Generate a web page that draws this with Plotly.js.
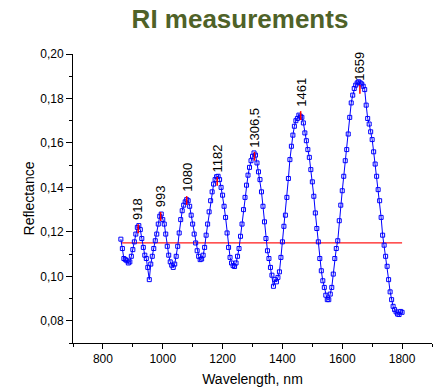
<!DOCTYPE html>
<html>
<head>
<meta charset="utf-8">
<script src="https://cdn.plot.ly/plotly-3.0.1.min.js"></script>
<style>
  html, body { margin: 0; padding: 0; background: #ffffff; }
  #chart { width: 435px; height: 389px; }
</style>
</head>
<body>
<div id="chart"></div>
<script>
// Wavelength (nm) of the measured points
var wavelength = [
  860, 865, 870, 875, 880, 885, 890, 895, 900, 905, 910, 915, 920, 925, 930, 935, 940, 945, 950, 955,
  960, 965, 970, 975, 980, 985, 990, 995, 1000, 1005, 1010, 1015, 1020, 1025, 1030, 1035, 1040, 1045, 1050, 1055,
  1060, 1065, 1070, 1075, 1080, 1085, 1090, 1095, 1100, 1105, 1110, 1115, 1120, 1125, 1130, 1135, 1140, 1145, 1150, 1155,
  1160, 1165, 1170, 1175, 1180, 1185, 1190, 1195, 1200, 1205, 1210, 1215, 1220, 1225, 1230, 1235, 1240, 1245, 1250, 1255,
  1260, 1265, 1270, 1275, 1280, 1285, 1290, 1295, 1300, 1305, 1310, 1315, 1320, 1325, 1330, 1335, 1340, 1345, 1350, 1355,
  1360, 1365, 1370, 1375, 1380, 1385, 1390, 1395, 1400, 1405, 1410, 1415, 1420, 1425, 1430, 1435, 1440, 1445, 1450, 1455,
  1460, 1465, 1470, 1475, 1480, 1485, 1490, 1495, 1500, 1505, 1510, 1515, 1520, 1525, 1530, 1535, 1540, 1545, 1550, 1555,
  1560, 1565, 1570, 1575, 1580, 1585, 1590, 1595, 1600, 1605, 1610, 1615, 1620, 1625, 1630, 1635, 1640, 1645, 1650, 1655,
  1660, 1665, 1670, 1675, 1680, 1685, 1690, 1695, 1700, 1705, 1710, 1715, 1720, 1725, 1730, 1735, 1740, 1745, 1750, 1755,
  1760, 1765, 1770, 1775, 1780, 1785, 1790, 1795, 1800
];

// Measured reflectance
var reflectance = [
  0.1167, 0.1125, 0.1080, 0.1075, 0.1070, 0.1060, 0.1065, 0.1090, 0.1120, 0.1155, 0.1190, 0.1220, 0.1228, 0.1210, 0.1170, 0.1130, 0.1095, 0.1080, 0.1040, 0.0985,
  0.1055, 0.1090, 0.1125, 0.1160, 0.1190, 0.1235, 0.1270, 0.1280, 0.1255, 0.1235, 0.1190, 0.1135, 0.1095, 0.1065, 0.1050, 0.1040, 0.1055, 0.1090, 0.1135, 0.1195,
  0.1255, 0.1295, 0.1320, 0.1335, 0.1345, 0.1340, 0.1315, 0.1275, 0.1235, 0.1190, 0.1150, 0.1115, 0.1090, 0.1075, 0.1078, 0.1095, 0.1130, 0.1185, 0.1235, 0.1290,
  0.1340, 0.1380, 0.1415, 0.1435, 0.1448, 0.1450, 0.1435, 0.1400, 0.1365, 0.1315, 0.1265, 0.1195, 0.1130, 0.1085, 0.1060, 0.1048, 0.1044, 0.1060, 0.1090, 0.1125,
  0.1180, 0.1235, 0.1300, 0.1355, 0.1410, 0.1455, 0.1490, 0.1520, 0.1540, 0.1555, 0.1545, 0.1510, 0.1470, 0.1435, 0.1380, 0.1315, 0.1245, 0.1170, 0.1115, 0.1080,
  0.1040, 0.1005, 0.0955, 0.0985, 0.0975, 0.0995, 0.1020, 0.1085, 0.1155, 0.1225, 0.1275, 0.1355, 0.1440, 0.1525, 0.1585, 0.1635, 0.1675, 0.1700, 0.1710, 0.1725,
  0.1720, 0.1715, 0.1690, 0.1645, 0.1610, 0.1570, 0.1535, 0.1480, 0.1425, 0.1360, 0.1285, 0.1215, 0.1155, 0.1080, 0.1025, 0.0980, 0.0950, 0.0915, 0.0895, 0.0895,
  0.0920, 0.0950, 0.1010, 0.1080, 0.1125, 0.1160, 0.1250, 0.1320, 0.1385, 0.1450, 0.1520, 0.1570, 0.1640, 0.1715, 0.1780, 0.1815, 0.1845, 0.1860, 0.1870, 0.1875,
  0.1870, 0.1865, 0.1855, 0.1840, 0.1770, 0.1710, 0.1685, 0.1650, 0.1615, 0.1560, 0.1505, 0.1450, 0.1390, 0.1340, 0.1265, 0.1185, 0.1140, 0.1090, 0.1045, 0.0985,
  0.0930, 0.0895, 0.0865, 0.0850, 0.0840, 0.0830, 0.0828, 0.0842, 0.0838
];

// Reference (threshold) level
var levelX = [860, 1800];
var levelY = [0.115, 0.115];

// Detected peaks
var peakNm     = [918, 993, 1080, 1182, 1306.5, 1461, 1659];
var peakValue  = [0.1214, 0.1269, 0.1341, 0.1427, 0.1540, 0.1723, 0.1841];
var peakLabels = ["918", "993", "1080", "1182", "1306,5", "1461", "1659"];

// Axis ticks
var xTicks = [800, 1000, 1200, 1400, 1600, 1800];
var yTicks = [0.08, 0.10, 0.12, 0.14, 0.16, 0.18, 0.20];

var markHalf = 0.002; // half-length of the red peak marks (style)
var peakSegX = [], peakSegY = [];
peakNm.forEach(function (p, i) {
  peakSegX.push(p, p, null);
  peakSegY.push(peakValue[i] - markHalf, peakValue[i] + markHalf, null);
});

var FONT = "Liberation Sans, Arial, sans-serif";

var traces = [
  {
    x: levelX, y: levelY, type: "scatter", mode: "lines",
    line: { color: "#ff1a1a", width: 1.3 }, hoverinfo: "skip", showlegend: false
  },
  {
    x: wavelength, y: reflectance, type: "scatter", mode: "lines+markers",
    line: { color: "#0000ff", width: 1 },
    marker: { symbol: "square-open", size: 4, color: "#0000ff", line: { width: 1, color: "#0000ff" } },
    hoverinfo: "x+y", showlegend: false
  },
  {
    x: peakSegX, y: peakSegY, type: "scatter", mode: "lines",
    line: { color: "#ff0000", width: 1.5 }, hoverinfo: "skip", showlegend: false
  }
];

var annotations = peakNm.map(function (p, i) {
  return {
    x: p, y: peakValue[i], xref: "x", yref: "y",
    text: peakLabels[i], showarrow: false, textangle: -90,
    xanchor: "center", yanchor: "bottom", yshift: 7,
    font: { family: FONT, size: 13, color: "#000000" }
  };
});

var layout = {
  width: 435, height: 389,
  margin: { l: 73, r: 3, t: 54, b: 46 },
  paper_bgcolor: "#ffffff", plot_bgcolor: "#ffffff",
  separators: ",.",
  font: { family: FONT, size: 12, color: "#000000" },
  title: {
    text: "<b>RI measurements</b>",
    font: { family: FONT, size: 26, color: "#4f6228" },
    x: 240 / 435, xanchor: "center", xref: "container",
    y: 1 - 19 / 389, yanchor: "middle", yref: "container"
  },
  xaxis: {
    range: [700, 1900], tickvals: xTicks, ticks: "outside", ticklen: 5, tickwidth: 1, tickcolor: "#000",
    showline: true, linecolor: "#000", linewidth: 1, showgrid: false, zeroline: false,
    minor: { ticks: "outside", ticklen: 3, dtick: 100, tick0: 700, tickcolor: "#000", showgrid: false },
    tickfont: { family: FONT, size: 12 },
    title: { text: "Wavelength, nm", font: { family: FONT, size: 14 }, standoff: 8 }
  },
  yaxis: {
    range: [0.07, 0.20], tickvals: yTicks, tickformat: ".2f", ticks: "outside", ticklen: 6, tickwidth: 1, tickcolor: "#000",
    showline: true, linecolor: "#000", linewidth: 1, showgrid: false, zeroline: false,
    minor: { ticks: "outside", ticklen: 3, dtick: 0.01, tick0: 0.07, tickcolor: "#000", showgrid: false },
    tickfont: { family: FONT, size: 12 },
    title: { text: "Reflectance", font: { family: FONT, size: 14 }, standoff: 2 }
  },
  annotations: annotations,
  showlegend: false
};

Plotly.newPlot("chart", traces, layout, { displayModeBar: false, staticPlot: true });
</script>
</body>
</html>
